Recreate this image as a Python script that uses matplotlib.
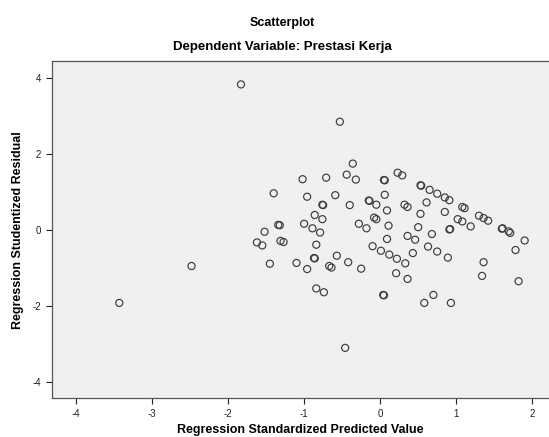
import numpy as np
from matplotlib import pyplot as plt

# Regression standardized predicted values (x) and studentized residuals (y)
pred = [-1.83, -0.53, -0.36, -1.02, -0.71, -0.44, -0.32, 0.05, 0.06, 0.23,
        0.29, 0.53, 0.54, 0.65, 0.75, 0.85, 0.91, -1.40, -0.96, -0.59,
        0.06, -0.76, -0.75, -0.40, -0.15, -0.14, -0.05, 0.32, 0.36, 0.61,
        1.08, 1.11, -0.86, -0.76, 0.09, -0.08, -0.05, 0.53, 0.85, 1.02,
        1.08, 1.30, 1.36, 1.42, -1.34, -1.32, -1.00, -0.89, -0.79, -0.28,
        -0.18, 0.11, 0.50, 0.91, 0.92, 1.19, 1.60, 1.61, 1.69, 1.71,
        1.90, -1.52, -1.62, -1.55, -1.31, -1.27, -0.84, 0.09, 0.36, 0.46,
        0.68, -0.10, 0.01, 0.12, 0.22, 0.33, 0.43, 0.63, 0.75, 0.89,
        1.78, 1.36, 1.34, 1.82, -1.45, -1.10, -0.96, -0.87, -0.86, -0.57,
        -0.67, -0.64, -0.42, -0.25, 0.21, 0.36, -0.84, -0.74, 0.04, 0.05,
        0.58, 0.70, 0.93, -2.48, -3.43, -0.46]
resid = [3.82, 2.84, 1.74, 1.33, 1.37, 1.45, 1.32, 1.31, 1.30, 1.50,
         1.43, 1.17, 1.16, 1.05, 0.95, 0.85, 0.78, 0.96, 0.87, 0.91,
         0.92, 0.66, 0.65, 0.65, 0.77, 0.76, 0.66, 0.66, 0.60, 0.72,
         0.60, 0.57, 0.39, 0.28, 0.51, 0.32, 0.28, 0.42, 0.47, 0.28,
         0.22, 0.37, 0.31, 0.24, 0.13, 0.12, 0.16, 0.04, -0.07, 0.16,
         0.04, 0.11, 0.07, 0.01, 0.02, 0.09, 0.03, 0.04, -0.04, -0.08,
         -0.28, -0.05, -0.33, -0.41, -0.29, -0.32, -0.39, -0.24, -0.16, -0.26,
         -0.11, -0.43, -0.55, -0.65, -0.76, -0.88, -0.61, -0.44, -0.57, -0.73,
         -0.53, -0.85, -1.21, -1.35, -0.89, -0.87, -1.03, -0.74, -0.75, -0.68,
         -0.95, -0.99, -0.85, -1.02, -1.14, -1.29, -1.54, -1.64, -1.71, -1.72,
         -1.92, -1.71, -1.92, -0.95, -1.92, -3.10]

xticks = [-4, -3, -2, -1, 0, 1, 2]
yticks = [-4, -2, 0, 2, 4]

plt.rcParams['font.family'] = ['Liberation Sans', 'DejaVu Sans']
plt.rcParams['axes.unicode_minus'] = False   # SPSS uses a plain hyphen for negatives

fig = plt.figure(figsize=(5.49, 4.37), dpi=100)
ax = fig.add_axes([0.094, 0.089, 0.906, 0.771])
ax.set_facecolor('#f0f0f0')

# open circles like the SPSS output
ax.scatter(pred, resid, s=26, facecolors='none', edgecolors='#3c3c3c', linewidths=0.85)

ax.set_xlim(-4.32, 2.22)
ax.set_ylim(-4.42, 4.43)
ax.set_xticks(xticks)
ax.set_yticks(yticks)
ax.tick_params(labelsize=7, length=4, width=0.8, colors='#222222')

for side in ['left', 'bottom', 'top']:
    ax.spines[side].set_color('#555555')
    ax.spines[side].set_linewidth(0.9)
ax.spines['right'].set_visible(False)

ax.set_xlabel('Regression Standardized Predicted Value', fontsize=9, fontweight='bold', labelpad=4)
ax.set_ylabel('Regression Studentized Residual', fontsize=9, fontweight='bold', labelpad=6)

fig.text(0.514, 0.947, 'Scatterplot', ha='center', va='center', fontsize=9, fontweight='bold')
fig.text(0.514, 0.893, 'Dependent Variable: Prestasi Kerja', ha='center', va='center',
         fontsize=9.5, fontweight='bold')

plt.savefig('out.png', dpi=100)
